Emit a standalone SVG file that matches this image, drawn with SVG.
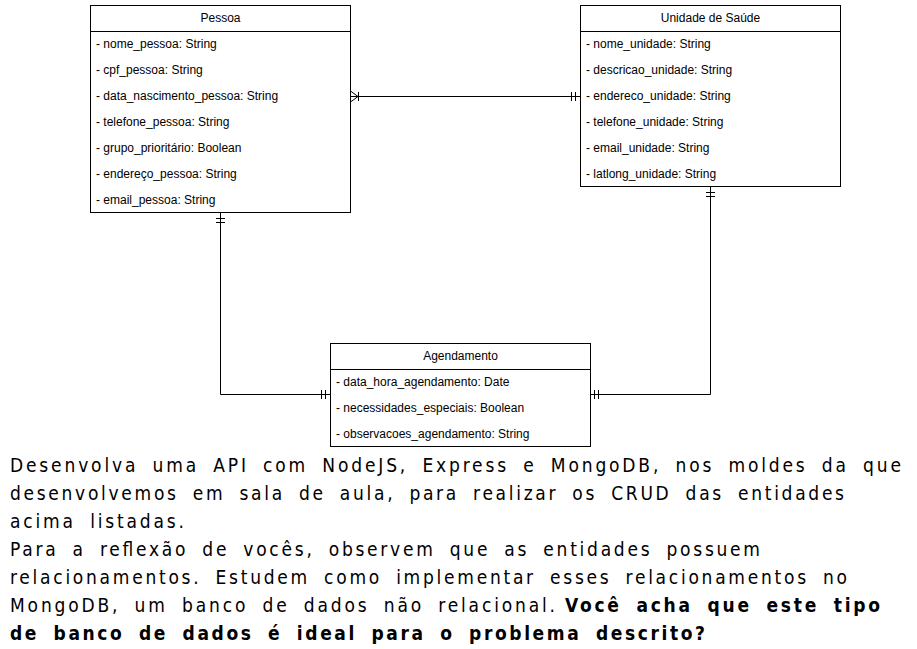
<svg xmlns="http://www.w3.org/2000/svg" width="917" height="649" viewBox="0 0 917 649">
<style>
.box{fill:#fff;stroke:#000;stroke-width:1}
.hd{font-family:"Liberation Sans",Arial,sans-serif;font-size:12px;fill:#000;text-anchor:middle}
.rw{font-family:"Liberation Sans",Arial,sans-serif;font-size:12px;fill:#000}
.ln{fill:none;stroke:#000;stroke-width:1}
.tx{font-family:"DejaVu Sans Condensed","DejaVu Sans",Verdana,sans-serif;font-size:19px;fill:#000;word-spacing:6px}
.b{font-weight:bold}
</style>
<rect width="917" height="649" fill="#fff"/>
<g id="connectors">
  <path class="ln" d="M350.5 96.5 H580.5"/>
  <path class="ln" d="M350.5 91 L358 96.5 L350.5 102 M358.5 92 V101"/>
  <path class="ln" d="M571.5 92 V101 M575.5 92 V101"/>
  <path class="ln" d="M220.5 212.5 V394.5 H330.5"/>
  <path class="ln" d="M216 218.5 H225 M216 222.5 H225"/>
  <path class="ln" d="M321.5 390 V399 M325.5 390 V399"/>
  <path class="ln" d="M710.5 186.5 V394.5 H590.5"/>
  <path class="ln" d="M706 192.5 H715 M706 196.5 H715"/>
  <path class="ln" d="M594.5 390 V399 M598.5 390 V399"/>
</g>
<g id="pessoa">
  <rect class="box" x="90.5" y="5.5" width="260" height="207"/>
  <path class="ln" d="M90.5 31.5 H350.5"/>
  <text class="hd" x="220.5" y="22">Pessoa</text>
  <text class="rw" x="96" y="48">- nome_pessoa: String</text>
  <text class="rw" x="96" y="74">- cpf_pessoa: String</text>
  <text class="rw" x="96" y="100">- data_nascimento_pessoa: String</text>
  <text class="rw" x="96" y="126">- telefone_pessoa: String</text>
  <text class="rw" x="96" y="152">- grupo_prioritário: Boolean</text>
  <text class="rw" x="96" y="178">- endereço_pessoa: String</text>
  <text class="rw" x="96" y="204">- email_pessoa: String</text>
</g>
<g id="unidade">
  <rect class="box" x="580.5" y="5.5" width="260" height="181"/>
  <path class="ln" d="M580.5 31.5 H840.5"/>
  <text class="hd" x="710.5" y="22">Unidade de Saúde</text>
  <text class="rw" x="586" y="48">- nome_unidade: String</text>
  <text class="rw" x="586" y="74">- descricao_unidade: String</text>
  <text class="rw" x="586" y="100">- endereco_unidade: String</text>
  <text class="rw" x="586" y="126">- telefone_unidade: String</text>
  <text class="rw" x="586" y="152">- email_unidade: String</text>
  <text class="rw" x="586" y="178">- latlong_unidade: String</text>
</g>
<g id="agendamento">
  <rect class="box" x="330.5" y="343.5" width="260" height="103"/>
  <path class="ln" d="M330.5 369.5 H590.5"/>
  <text class="hd" x="460.5" y="360">Agendamento</text>
  <text class="rw" x="336" y="386">- data_hora_agendamento: Date</text>
  <text class="rw" x="336" y="412">- necessidades_especiais: Boolean</text>
  <text class="rw" x="336" y="438">- observacoes_agendamento: String</text>
</g>
<g id="texto">
  <text class="tx" x="10" y="472" textLength="891" lengthAdjust="spacing">Desenvolva uma API com NodeJS, Express e MongoDB, nos moldes da que</text>
  <text class="tx" x="10" y="500" textLength="834" lengthAdjust="spacing">desenvolvemos em sala de aula, para realizar os CRUD das entidades</text>
  <text class="tx" x="10" y="528" textLength="174" lengthAdjust="spacing">acima listadas.</text>
  <text class="tx" x="10" y="556" textLength="750" lengthAdjust="spacing">Para a reflexão de vocês, observem que as entidades possuem</text>
  <text class="tx" x="10" y="584" textLength="837" lengthAdjust="spacing">relacionamentos. Estudem como implementar esses relacionamentos no</text>
  <text class="tx" x="10" y="612" textLength="545" lengthAdjust="spacing">MongoDB, um banco de dados não relacional.</text>
  <text class="tx b" x="565" y="612" textLength="315" lengthAdjust="spacing">Você acha que este tipo</text>
  <text class="tx b" x="10" y="640" textLength="695" lengthAdjust="spacing">de banco de dados é ideal para o problema descrito?</text>
</g>
</svg>
